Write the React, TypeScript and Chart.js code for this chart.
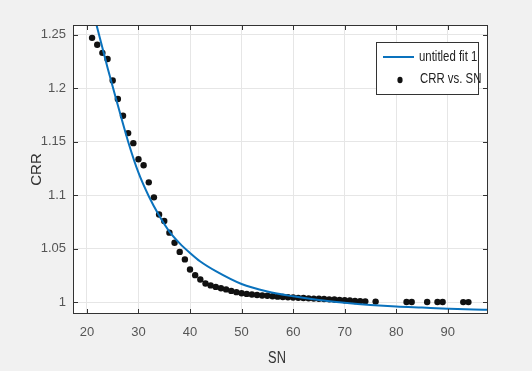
import React, { useEffect, useRef } from "react";
import { Chart, registerables } from "chart.js";

Chart.register(...registerables);

// Measured data: CRR vs. SN
const snValues = [
  21, 22, 23, 24, 25, 26, 27, 28, 29, 30, 31, 32, 33, 34, 35, 36, 37, 38, 39, 40,
  41, 42, 43, 44, 45, 46, 47, 48, 49, 50, 51, 52, 53, 54, 55, 56, 57, 58, 59, 60,
  61, 62, 63, 64, 65, 66, 67, 68, 69, 70, 71, 72, 73, 74, 76, 82, 83, 86, 88, 89, 93, 94,
];
const crrValues = [
  1.247, 1.2406, 1.233, 1.2273, 1.2072, 1.1898, 1.1742, 1.158, 1.1486, 1.1336,
  1.128, 1.112, 1.098, 1.082, 1.076, 1.065, 1.0555, 1.047, 1.04, 1.0306,
  1.0253, 1.0213, 1.0175, 1.0157, 1.0143, 1.013, 1.012, 1.0106, 1.0094, 1.0084,
  1.0078, 1.0072, 1.0067, 1.0063, 1.006, 1.0056, 1.0052, 1.0049, 1.0046, 1.0044,
  1.0041, 1.0039, 1.0036, 1.0034, 1.0032, 1.003, 1.0027, 1.0025, 1.0022, 1.0019,
  1.0016, 1.0012, 1.001, 1.0008, 1.0006, 1.0002, 1.0002, 1.0002, 1.0002, 1.0002, 1.0001, 1.0001,
];

// Fitted curve ("untitled fit 1")
const fitSN = [21, 22, 24, 26, 28, 30, 32, 34, 36, 38, 40, 42, 45, 50, 55, 60, 65, 70, 75, 80, 85, 90, 95, 97.8];
const fitCRR = [
  1.275, 1.2565, 1.219, 1.184, 1.15, 1.121, 1.099, 1.081, 1.066, 1.055, 1.046, 1.038,
  1.029, 1.017, 1.01, 1.0055, 1.002, 0.9995, 0.9975, 0.996, 0.995, 0.994, 0.9932, 0.993,
];

const xTicks = [20, 30, 40, 50, 60, 70, 80, 90];
const yTicks = [1, 1.05, 1.1, 1.15, 1.2, 1.25];
const yTickLabels = ["1", "1.05", "1.1", "1.15", "1.2", "1.25"];

const seriesNames = ["untitled fit 1", "CRR vs. SN"];
const axisTitles = { x: "SN", y: "CRR" };

const FONT = "'Liberation Sans', Arial, sans-serif";
const FIT_COLOR = "#0a72bd";
const DOT_COLOR = "#111111";

function squeezedText(ctx: any, text: string, x: number, y: number, sx: number) {
  ctx.save();
  ctx.translate(x, y);
  ctx.scale(sx, 1);
  ctx.fillText(text, 0, 0);
  ctx.restore();
}

const decorPlugin = {
  id: "decor",
  afterDatasetsDraw(chart: any) {
    const { ctx, chartArea } = chart;
    const { left, right, top, bottom } = chartArea;
    const xs = chart.scales.x;
    const ys = chart.scales.y;
    ctx.save();
    // box
    ctx.strokeStyle = "#333333";
    ctx.lineWidth = 1;
    ctx.strokeRect(left + 0.5, top + 0.5, right - left - 1, bottom - top - 1);
    // inward ticks
    ctx.beginPath();
    xTicks.forEach((v) => {
      const px = Math.round(xs.getPixelForValue(v)) + 0.5;
      ctx.moveTo(px, bottom);
      ctx.lineTo(px, bottom - 5);
      ctx.moveTo(px, top);
      ctx.lineTo(px, top + 5);
    });
    yTicks.forEach((v) => {
      const py = Math.round(ys.getPixelForValue(v)) + 0.5;
      ctx.moveTo(left, py);
      ctx.lineTo(left + 5, py);
      ctx.moveTo(right, py);
      ctx.lineTo(right - 5, py);
    });
    ctx.stroke();

    // legend
    const lx = 376, ly = 42, lw = 102, lh = 52;
    ctx.fillStyle = "#ffffff";
    ctx.fillRect(lx, ly, lw, lh);
    ctx.strokeStyle = "#333333";
    ctx.strokeRect(lx + 0.5, ly + 0.5, lw, lh);
    ctx.strokeStyle = FIT_COLOR;
    ctx.lineWidth = 2;
    ctx.beginPath();
    ctx.moveTo(383, 57);
    ctx.lineTo(414, 57);
    ctx.stroke();
    ctx.fillStyle = DOT_COLOR;
    ctx.beginPath();
    ctx.ellipse(400, 80, 2.6, 3.2, 0, 0, Math.PI * 2);
    ctx.fill();
    ctx.fillStyle = "#222222";
    ctx.font = `15px ${FONT}`;
    ctx.textAlign = "left";
    ctx.textBaseline = "middle";
    squeezedText(ctx, seriesNames[0], 419, 57, 0.76);
    squeezedText(ctx, seriesNames[1], 420, 79, 0.76);

    // axis titles
    ctx.fillStyle = "#333333";
    ctx.font = `16px ${FONT}`;
    ctx.textAlign = "center";
    ctx.textBaseline = "middle";
    squeezedText(ctx, axisTitles.x, 277, 359, 0.8);
    ctx.save();
    ctx.translate(37, (top + bottom) / 2);
    ctx.rotate(-Math.PI / 2);
    ctx.font = `15px ${FONT}`;
    ctx.fillText(axisTitles.y, 0, 0);
    ctx.restore();
    ctx.restore();
  },
};

export default function App() {
  const ref = useRef<HTMLCanvasElement | null>(null);
  useEffect(() => {
    document.body.style.margin = "0";
    document.body.style.background = "#f1f1f1";
    const canvas = ref.current;
    if (!canvas) return;
    const chart = new Chart(canvas, {
      type: "scatter",
      data: {
        datasets: [
          {
            label: seriesNames[1],
            data: snValues.map((x, i) => ({ x, y: crrValues[i] })),
            showLine: false,
            pointRadius: 3.2,
            pointBackgroundColor: DOT_COLOR,
            pointBorderWidth: 0,
            order: 2,
          },
          {
            label: seriesNames[0],
            data: fitSN.map((x, i) => ({ x, y: fitCRR[i] })),
            showLine: true,
            pointRadius: 0,
            borderColor: FIT_COLOR,
            borderWidth: 2,
            cubicInterpolationMode: "monotone",
            order: 1,
          },
        ],
      },
      options: {
        animation: false,
        responsive: false,
        events: [],
        layout: { padding: { left: 0, top: 25, right: 44, bottom: 0 } },
        plugins: { legend: { display: false }, tooltip: { enabled: false } },
        scales: {
          x: {
            type: "linear",
            min: 17.3,
            max: 97.8,
            afterBuildTicks: (s: any) => {
              s.ticks = xTicks.map((v) => ({ value: v }));
            },
            afterFit: (s: any) => {
              s.height = 57;
            },
            grid: { color: "#e6e6e6", drawTicks: false, lineWidth: 1 },
            border: { display: false },
            ticks: {
              padding: 11,
              color: "#555555",
              font: { family: FONT, size: 13 },
              callback: (v: any) => String(v),
            },
          },
          y: {
            type: "linear",
            min: 0.989,
            max: 1.259,
            afterBuildTicks: (s: any) => {
              s.ticks = yTicks.map((v) => ({ value: v }));
            },
            afterFit: (s: any) => {
              s.width = 73;
            },
            grid: { color: "#e6e6e6", drawTicks: false, lineWidth: 1 },
            border: { display: false },
            ticks: {
              padding: 7,
              color: "#555555",
              font: { family: FONT, size: 13 },
              callback: (v: any) => {
                const i = yTicks.findIndex((t) => Math.abs(t - v) < 1e-9);
                return i >= 0 ? yTickLabels[i] : "";
              },
            },
          },
        },
      },
      plugins: [
        {
          id: "plotBg",
          beforeDraw(chart: any) {
            const { ctx, chartArea } = chart;
            ctx.save();
            ctx.fillStyle = "#ffffff";
            ctx.fillRect(chartArea.left, chartArea.top, chartArea.right - chartArea.left, chartArea.bottom - chartArea.top);
            ctx.restore();
          },
        },
        decorPlugin,
      ],
    } as any);
    return () => chart.destroy();
  }, []);
  return (
    <div style={{ width: 532, height: 371, background: "#f1f1f1" }}>
      <canvas ref={ref} width={532} height={371} style={{ display: "block" }} />
    </div>
  );
}
